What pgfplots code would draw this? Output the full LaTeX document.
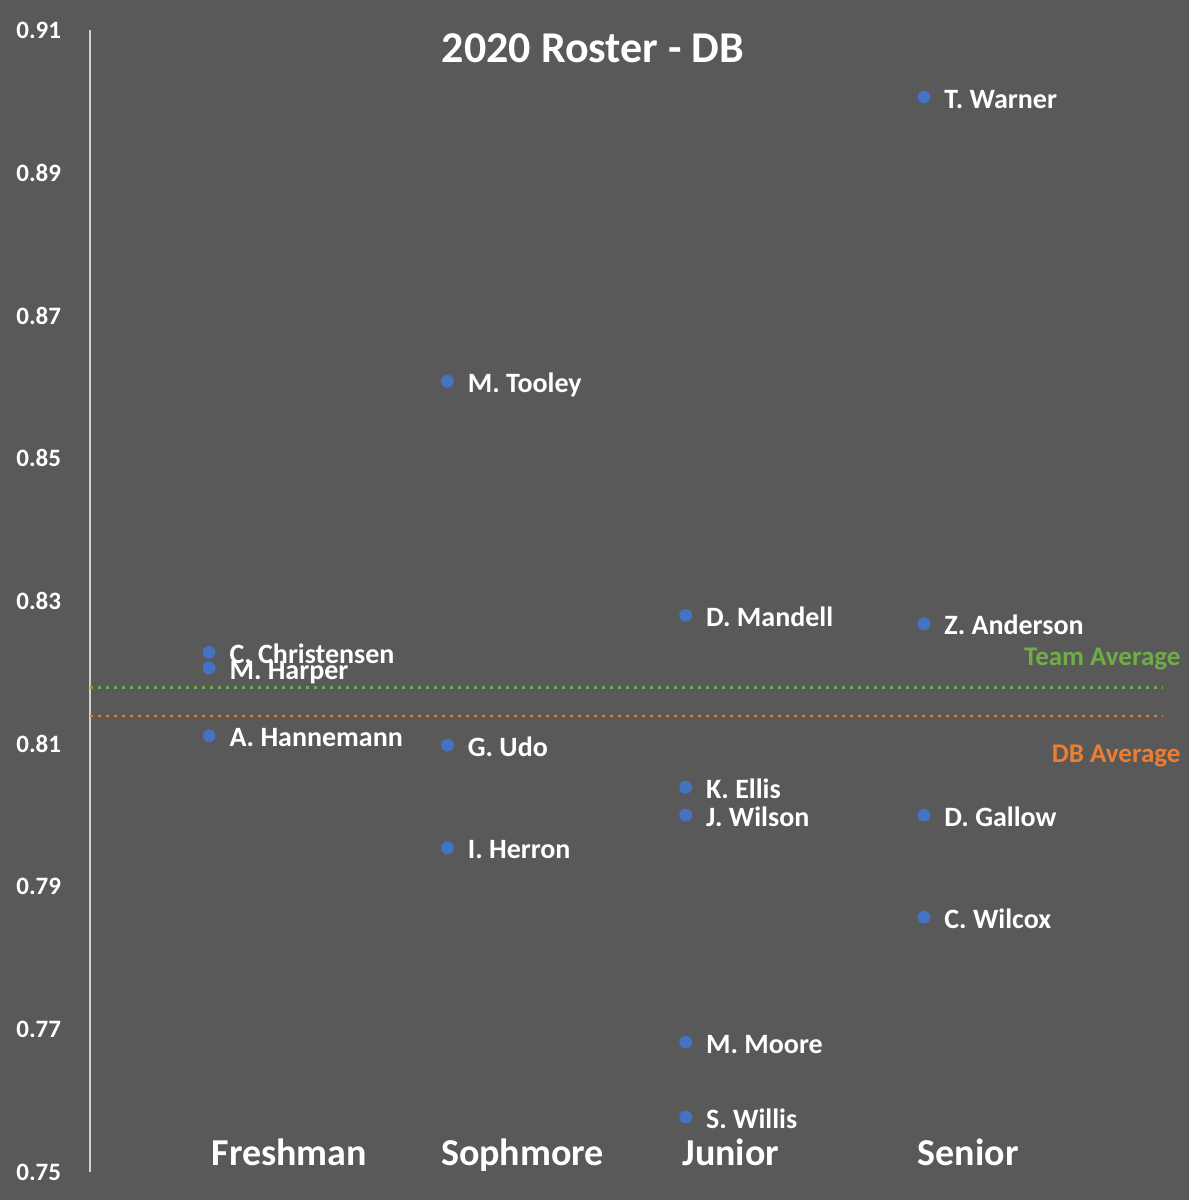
\documentclass[border=0pt]{standalone}
\usepackage{pgfplots}
\pgfplotsset{compat=1.18}
\usepackage{fontspec}
\setmainfont{Carlito}
\definecolor{bg}{HTML}{595959}
\definecolor{dotblue}{HTML}{4472C4}
\definecolor{teamgreen}{HTML}{70AD47}
\definecolor{dborange}{HTML}{ED7D31}
\definecolor{axisgrey}{HTML}{D0D0D0}
\begin{document}
\begin{tikzpicture}
\path[use as bounding box, fill=bg] (-45pt,-14pt) rectangle (549.5pt,586pt);
\begin{axis}[
    scale only axis,
    width=549.5pt, height=571pt,
    xmin=0.5, xmax=5.112,
    ymin=0.75, ymax=0.91,
    axis x line=none,
    axis y line=left,
    axis line style={-, draw=axisgrey, line width=0.8pt},
    ytick={0.75,0.77,0.79,0.81,0.83,0.85,0.87,0.89,0.91},
    major tick length=0pt,
    tick style={draw=none},
    /pgf/number format/assume math mode=true,
    yticklabel style={anchor=west, inner sep=0pt, xshift=-37pt, text=white,
        font=\bfseries\fontsize{12.5}{14}\selectfont,
        /pgf/number format/fixed, /pgf/number format/fixed zerofill,
        /pgf/number format/precision=2},
    clip=false,
]
% average lines
\addplot[teamgreen, line width=1.4pt, dash pattern=on 1.4pt off 2.6pt]
    coordinates {(0.5,0.8179) (5.0,0.8179)};
\addplot[dborange, line width=1.4pt, dash pattern=on 1.4pt off 2.6pt]
    coordinates {(0.5,0.8139) (5.0,0.8139)};

% players
\addplot[only marks, mark=*, mark size=3pt, color=dotblue,
    point meta=explicit symbolic, nodes near coords,
    nodes near coords style={anchor=base west, inner sep=0pt, xshift=10pt, yshift=-5.5pt,
        text=white, font=\bfseries\fontsize{14}{16}\selectfont}]
coordinates {
(1,0.8228) [C. Christensen]
(1,0.8206) [M. Harper]
(1,0.8111) [A. Hannemann]
(2,0.8608) [M. Tooley]
(2,0.8098) [G. Udo]
(2,0.7954) [I. Herron]
(3,0.8280) [D. Mandell]
(3,0.8039) [K. Ellis]
(3,0.8000) [J. Wilson]
(3,0.7682) [M. Moore]
(3,0.7577) [S. Willis]
(4,0.9006) [T. Warner]
(4,0.8268) [Z. Anderson]
(4,0.8000) [D. Gallow]
(4,0.7857) [C. Wilcox]
};

\node[anchor=base, inner sep=0pt, text=white, font=\bfseries\fontsize{22}{26}\selectfont]
    at (axis cs:2.611,0.90538) {2020 Roster - DB};
\node[anchor=base east, inner sep=0pt, text=teamgreen, font=\bfseries\fontsize{13.5}{15}\selectfont]
    at (axis cs:5.078,0.82103) {Team Average};
\node[anchor=base east, inner sep=0pt, text=dborange, font=\bfseries\fontsize{13.5}{15}\selectfont]
    at (axis cs:5.078,0.80744) {DB Average};

\tikzset{cat/.style={anchor=base, inner sep=0pt, text=white, font=\bfseries\fontsize{19}{22}\selectfont}}
\node[cat] at (axis cs:1.336,0.75098) {Freshman};
\node[cat] at (axis cs:2.315,0.75098) {Sophmore};
\node[cat] at (axis cs:3.189,0.75098) {Junior};
\node[cat] at (axis cs:4.185,0.75098) {Senior};
\end{axis}
\end{tikzpicture}
\end{document}
